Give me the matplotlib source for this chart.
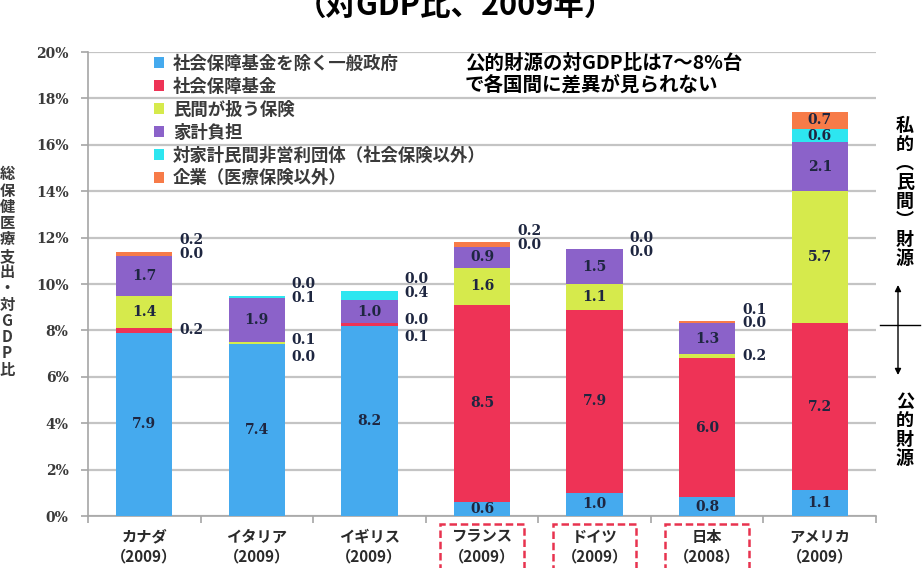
import matplotlib.pyplot as plt
import numpy as np
from matplotlib.patches import Patch, Rectangle
from matplotlib.lines import Line2D

plt.rcParams['font.family'] = ['Noto Sans CJK JP', 'DejaVu Sans']

# datos (% del PIB)
paises = ['カナダ', 'イタリア', 'イギリス', 'フランス', 'ドイツ', '日本', 'アメリカ']
anios = ['2009', '2009', '2009', '2009', '2009', '2008', '2009']
marcados = ['フランス', 'ドイツ', '日本']

series = ['社会保障基金を除く一般政府', '社会保障基金', '民間が扱う保険', '家計負担',
          '対家計民間非営利団体（社会保険以外）', '企業（医療保険以外）']
gobierno = [7.9, 7.4, 8.2, 0.6, 1.0, 0.8, 1.1]
fondo = [0.2, 0.0, 0.1, 8.5, 7.9, 6.0, 7.2]
privado = [1.4, 0.1, 0.0, 1.6, 1.1, 0.2, 5.7]
hogares = [1.7, 1.9, 1.0, 0.9, 1.5, 1.3, 2.1]
npo = [0.0, 0.1, 0.4, 0.0, 0.0, 0.0, 0.6]
empresas = [0.2, 0.0, 0.0, 0.2, 0.0, 0.1, 0.7]

yticks = [0, 2, 4, 6, 8, 10, 12, 14, 16, 18, 20]

colores = ['#45aaee', '#ee3356', '#d6ea4c', '#8b62c9', '#2de6f0', '#f77b48']
color_num = '#1e2640'
serif = 'DejaVu Serif'

fig = plt.figure(figsize=(9.24, 5.68), dpi=100)
ax = fig.add_axes([88 / 924, 52 / 568, (876 - 88) / 924, 464 / 568])

valores = [gobierno, fondo, privado, hogares, npo, empresas]
x = np.arange(len(paises))
base = np.zeros(len(paises))
for vals, col, nombre in zip(valores, colores, series):
    ax.bar(x, vals, 0.5, bottom=base, color=col, label=nombre, zorder=3)
    base += np.array(vals)

# etiquetas de los segmentos
for i in range(len(paises)):
    segs = [v[i] for v in valores]
    abajo = np.cumsum([0] + segs[:-1])
    total = sum(segs)
    for k, v in enumerate(segs):
        centro = abajo[k] + v / 2
        texto = f'{v:.1f}'
        if v >= 0.5:
            ax.text(i, centro, texto, ha='center', va='center', fontsize=10,
                    family=serif, weight='bold', color=color_num, zorder=4)
            continue
        if k >= 4:
            y = total + 0.5 if k == 5 else total - 0.1
        else:
            ambos = segs[1] < 0.5 and segs[2] < 0.5
            if ambos:
                y = centro + 0.15 if k == 2 else centro - 0.55
            else:
                y = centro
        ax.text(i + 0.31, y, texto, ha='left', va='center', fontsize=10,
                family=serif, weight='bold', color=color_num, zorder=4)

ax.set_xlim(-0.5, len(paises) - 0.5)
ax.set_ylim(0, 20)
ax.set_yticks(yticks)
ax.set_yticklabels([f'{t}%' for t in yticks], family=serif, weight='bold',
                   fontsize=10, color='#3a3a3a')
ax.set_xticks(np.arange(-0.5, len(paises), 1))
ax.set_xticklabels([])
ax.tick_params(axis='both', length=5, color='#a6a6a6', width=1.2)
ax.tick_params(axis='y', pad=9)
ax.yaxis.grid(True, color='#c4c4c4', lw=1.6)
ax.set_axisbelow(True)
for lado in ['top', 'right']:
    ax.spines[lado].set_visible(False)
for lado in ['left', 'bottom']:
    ax.spines[lado].set_color('#a6a6a6')
    ax.spines[lado].set_linewidth(1.2)

# nombres de paises y cuadros rojos
for i, (p, a) in enumerate(zip(paises, anios)):
    ax.text(i, -0.027, f'{p}\n（{a}）', transform=ax.get_xaxis_transform(),
            ha='center', va='top', fontsize=11, weight='bold', color='#2a2a2a',
            linespacing=1.3)
    if p in marcados:
        ax.add_patch(Rectangle((i - 0.37, -0.2), 0.74, 0.2 - 0.017,
                               transform=ax.get_xaxis_transform(), clip_on=False,
                               fill=False, edgecolor='#e8334f', lw=1.8,
                               linestyle=(0, (3, 1.5))))

# leyenda
manejadores = [Patch(facecolor=c) for c in colores]
ley = ax.legend(manejadores, series, loc='upper left',
                bbox_to_anchor=(154 / 924, 1 - 55 / 568), bbox_transform=fig.transFigure,
                frameon=False, prop={'size': 12.5, 'weight': 'bold'},
                handlelength=0.6, handleheight=0.6,
                handletextpad=0.5, labelspacing=0.28, borderpad=0, borderaxespad=0)
for t in ley.get_texts():
    t.set_color('#3a3a3a')

# textos
fig.text(455 / 924, 1 - 15 / 568, '（対GDP比、2009年）', ha='center', va='baseline',
         fontsize=22, weight='bold')
fig.text(465 / 924, 1 - 74 / 568, '公的財源の対GDP比は7〜8%台\nで各国間に差異が見られない',
         ha='left', va='center', fontsize=14, weight='bold', linespacing=1.15)
fig.text(7 / 924, 1 - 272 / 568, '総\n保\n健\n医\n療\n支\n出\n・\n対\nG\nD\nP\n比',
         ha='center', va='center', fontsize=11, weight='bold', color='#3a3a3a',
         linespacing=1.02)

fig.text(905 / 924, 1 - 192 / 568, '私\n的\n︵\n民\n間\n︶\n財\n源', ha='center', va='center',
         fontsize=13, weight='bold', linespacing=1.0)
fig.text(905 / 924, 1 - 430 / 568, '公\n的\n財\n源', ha='center', va='center',
         fontsize=13, weight='bold', linespacing=1.0)
ax.annotate('', xy=(898, 568 - 285), xytext=(898, 568 - 375), xycoords='figure pixels',
            arrowprops=dict(arrowstyle='<|-|>', color='black', lw=1, shrinkA=0, shrinkB=0,
                            mutation_scale=9))
fig.add_artist(Line2D([880 / 924, 920 / 924], [1 - 325 / 568] * 2, color='black', lw=1))

plt.savefig('out.png', dpi=100)
